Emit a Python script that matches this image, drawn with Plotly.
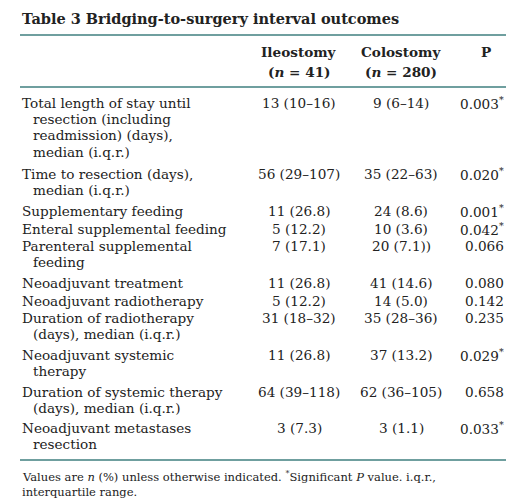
import plotly.graph_objects as go

W, H = 514, 498

labels = [
    ["Total length of stay until", "resection (including", "readmission) (days),", "median (i.q.r.)"],
    ["Time to resection (days),", "median (i.q.r.)"],
    ["Supplementary feeding"],
    ["Enteral supplemental feeding"],
    ["Parenteral supplemental", "feeding"],
    ["Neoadjuvant treatment"],
    ["Neoadjuvant radiotherapy"],
    ["Duration of radiotherapy", "(days), median (i.q.r.)"],
    ["Neoadjuvant systemic", "therapy"],
    ["Duration of systemic therapy", "(days), median (i.q.r.)"],
    ["Neoadjuvant metastases", "resection"],
]
ileostomy = ["13 (10–16)", "56 (29–107)", "11 (26.8)", "5 (12.2)", "7 (17.1)", "11 (26.8)",
             "5 (12.2)", "31 (18–32)", "11 (26.8)", "64 (39–118)", "3 (7.3)"]
colostomy = ["9 (6–14)", "35 (22–63)", "24 (8.6)", "10 (3.6)", "20 (7.1))", "41 (14.6)",
             "14 (5.0)", "35 (28–36)", "37 (13.2)", "62 (36–105)", "3 (1.1)"]
p_values = ["0.003*", "0.020*", "0.001*", "0.042*", "0.066", "0.080",
            "0.142", "0.235", "0.029*", "0.658", "0.033*"]

row_y = [101, 172, 209, 227, 244, 281, 299, 316, 353, 390, 426]
LINE_H = 16.2
SHIFT = -6  # rendered text sat ~6px low
TEAL = "#3f7f7f"
TXT = "#222222"
FONT = "DejaVu Serif"

fig = go.Figure()

def px(x):
    return x / W

def py(y):
    return 1 - (y + SHIFT) / H

def add(text, x, y, anchor="left", size=13.6, bold=False):
    if bold:
        text = f"<b>{text}</b>"
    fig.add_annotation(text=text, x=px(x), y=py(y), xref="paper", yref="paper",
                       xanchor=anchor, yanchor="middle", showarrow=False,
                       font=dict(family=FONT, size=size, color=TXT))

def pfmt(p):
    return p.replace("*", "<sup>*</sup>")

add("Table 3 Bridging-to-surgery interval outcomes", 12, 16, size=14.5, bold=True)

for y in (33, 85, 458):
    fig.add_shape(type="line", xref="paper", yref="paper", x0=px(12), x1=px(498),
                  y0=py(y), y1=py(y), line=dict(color=TEAL, width=1.3))

add("Ileostomy", 291, 50, anchor="center", bold=True)
add("(<i>n</i> = 41)", 291, 70, anchor="center", bold=True)
add("Colostomy", 393, 50, anchor="center", bold=True)
add("(<i>n</i> = 280)", 393, 70, anchor="center", bold=True)
add("P", 478, 50, anchor="center", bold=True)

for lines, y0, a, b, p in zip(labels, row_y, ileostomy, colostomy, p_values):
    for i, line in enumerate(lines):
        add(line, 12 if i == 0 else 23, y0 + i * LINE_H)
    add(a, 291, y0, anchor="center")
    add(b, 393, y0, anchor="center")
    add(pfmt(p), 498, y0, anchor="right")

add("Values are <i>n</i> (%) unless otherwise indicated. <sup>*</sup>Significant <i>P</i> value. i.q.r.,", 12, 474, size=11.5)
add("interquartile range.", 12, 490, size=11.5)

fig.update_xaxes(visible=False)
fig.update_yaxes(visible=False)
fig.update_layout(width=W, height=H, margin=dict(l=0, r=0, t=0, b=0),
                  paper_bgcolor="white", plot_bgcolor="white", showlegend=False)
fig.write_html("out.html")
